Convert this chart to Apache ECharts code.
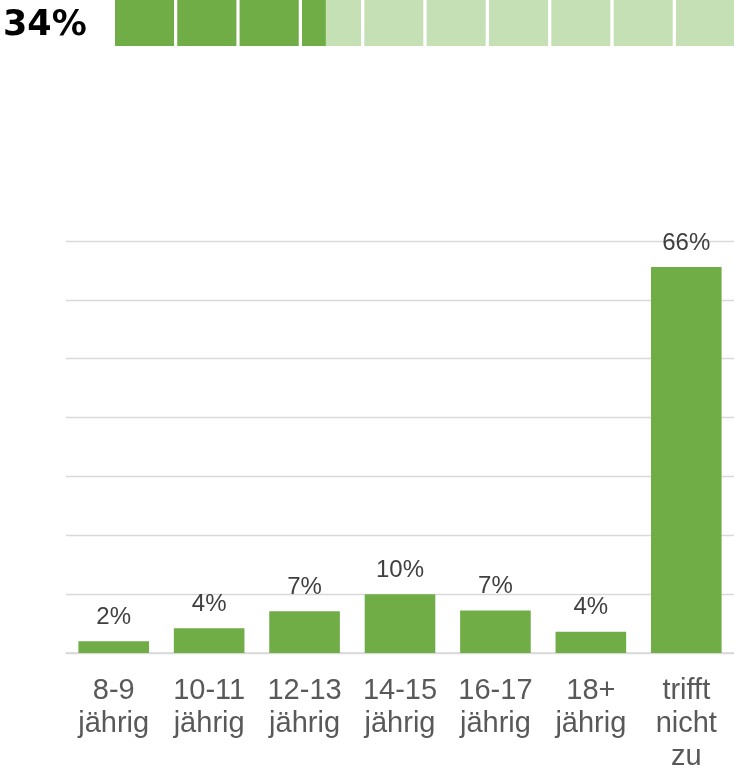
<!DOCTYPE html>
<html>
<head>
<meta charset="utf-8">
<script src="https://cdn.jsdelivr.net/npm/echarts@6/dist/echarts.min.js"></script>
<style>
  html, body { margin: 0; padding: 0; background: #fff; }
  #chart { width: 734px; height: 770px; }
</style>
</head>
<body>
<div id="chart"></div>
<script>
// share shown as pictogram at the top
const sharePercent = 34;
const squareCount = 10;

// age groups and their shares (percent)
const categories = ['8-9\njährig', '10-11\njährig', '12-13\njährig', '14-15\njährig', '16-17\njährig', '18+\njährig', 'trifft\nnicht\nzu'];
const values = [2.0, 4.2, 7.1, 10.0, 7.2, 3.6, 65.6];

const font = 'Liberation Sans, Arial, sans-serif';
const green = '#70ad47';
const lightGreen = '#c5e0b4';

const myChart = echarts.init(document.getElementById('chart'));

const option = {
  animation: false,
  title: {
    text: sharePercent + '%',
    left: -2,
    top: 3,
    textStyle: { fontFamily: 'DejaVu Sans', fontSize: 35, fontWeight: 'bold', color: '#000' }
  },
  grid: [
    { left: 66, right: 0, top: 241, bottom: 117, outerBoundsMode: 'none' },
    { left: 115, width: 620, top: 0, height: 46, outerBoundsMode: 'none' }
  ],
  xAxis: [
    {
      type: 'category',
      gridIndex: 0,
      data: categories,
      axisTick: { show: false },
      axisLine: { lineStyle: { color: '#d9d9d9', width: 1.5 } },
      axisLabel: {
        interval: 0,
        margin: 21,
        fontFamily: font,
        fontSize: 29,
        lineHeight: 33,
        color: '#595959'
      }
    },
    {
      type: 'value',
      gridIndex: 1,
      min: 0,
      max: squareCount,
      show: false
    }
  ],
  yAxis: [
    {
      type: 'value',
      gridIndex: 0,
      min: 0,
      max: 70,
      interval: 10,
      axisLabel: { show: false },
      splitLine: { lineStyle: { color: '#d9d9d9', width: 1.3 } }
    },
    {
      type: 'category',
      gridIndex: 1,
      data: [''],
      show: false
    }
  ],
  series: [
    {
      type: 'bar',
      xAxisIndex: 0,
      yAxisIndex: 0,
      data: values,
      barWidth: '74%',
      itemStyle: { color: green },
      label: {
        show: true,
        position: 'top',
        distance: 12,
        fontFamily: font,
        fontSize: 24,
        color: '#404040',
        formatter: p => Math.round(p.value) + '%'
      }
    },
    {
      type: 'pictorialBar',
      xAxisIndex: 1,
      yAxisIndex: 1,
      symbol: 'rect',
      symbolRepeat: 'fixed',
      symbolSize: [59, 46],
      symbolMargin: 3,
      symbolBoundingData: squareCount,
      itemStyle: { color: lightGreen },
      z: 1,
      data: [squareCount]
    },
    {
      type: 'pictorialBar',
      xAxisIndex: 1,
      yAxisIndex: 1,
      symbol: 'rect',
      symbolRepeat: 'fixed',
      symbolSize: [59, 46],
      symbolMargin: 3,
      symbolClip: true,
      symbolBoundingData: squareCount,
      itemStyle: { color: green },
      z: 2,
      data: [sharePercent / 100 * squareCount]
    }
  ]
};

myChart.setOption(option);
</script>
</body>
</html>
